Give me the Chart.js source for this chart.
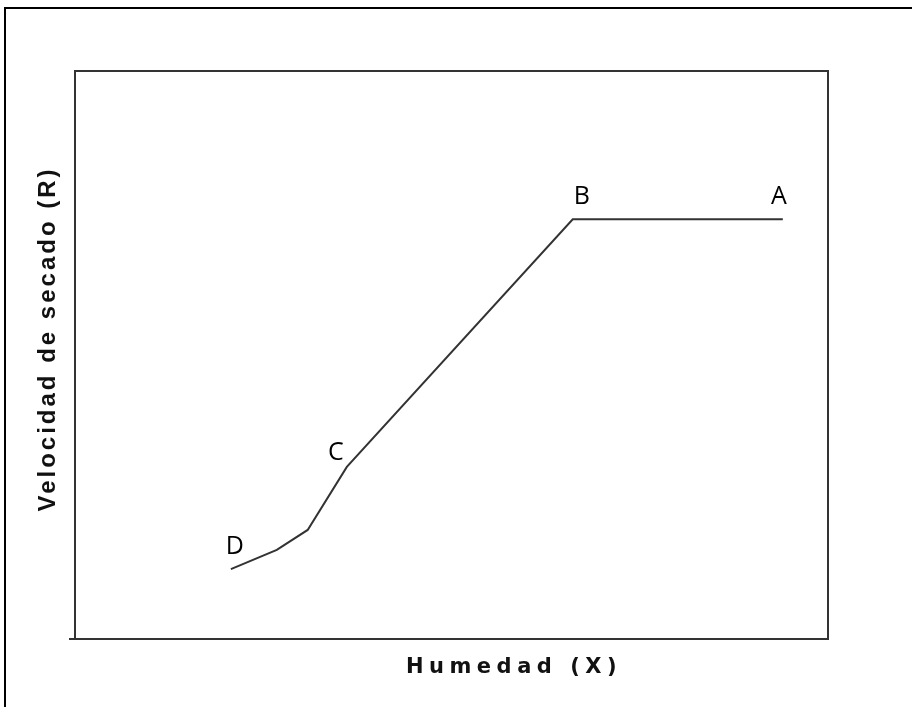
<!DOCTYPE html>
<html>
<head>
<meta charset="utf-8">
<script src="https://cdn.jsdelivr.net/npm/chart.js@4.4.0/dist/chart.umd.min.js"></script>
<style>
    html, body { margin: 0; padding: 0; background: #fff; overflow: hidden; }
    #frame {
        position: absolute; left: 4px; top: 7px;
        width: 1000px; height: 800px;
        border: 2px solid #000;
    }
    #wrap { position: absolute; left: 0; top: 0; width: 912px; height: 707px; }
</style>
</head>
<body>
<div id="frame"></div>
<div id="wrap"><canvas id="chart" width="912" height="707"></canvas></div>
<script>
// Curve of drying rate vs moisture (arbitrary 0-100 units)
const humedad = [20.7, 26.8, 30.9, 36.1, 66.1, 94.0];
const velocidad = [12.3, 15.7, 19.2, 30.3, 73.9, 73.9];
const puntos = ['D', '', '', 'C', 'B', 'A'];

const xTitle = 'Humedad (X)';
const yTitle = 'Velocidad de secado (R)';

// label offsets from each point, in pixels
const labelOffsets = {
    D: [4, -22],
    C: [-11, -14],
    B: [9, -22],
    A: [-4, -22]
};

const boxPlugin = {
    id: 'boxPlugin',
    afterDraw(chart) {
        const ctx = chart.ctx;
        const a = chart.chartArea;
        ctx.save();
        ctx.strokeStyle = '#333';
        ctx.lineWidth = 2;
        ctx.beginPath();
        ctx.moveTo(a.left - 6, a.bottom);
        ctx.lineTo(a.right, a.bottom);
        ctx.lineTo(a.right, a.top);
        ctx.lineTo(a.left, a.top);
        ctx.lineTo(a.left, a.bottom);
        ctx.stroke();

        // axis titles
        ctx.fillStyle = '#111';
        ctx.textAlign = 'center';
        ctx.textBaseline = 'middle';
        ctx.font = 'bold 21px "DejaVu Sans", Verdana, sans-serif';
        ctx.letterSpacing = '5.5px';
        ctx.fillText(xTitle, a.left + 439, a.bottom + 29);

        ctx.font = 'bold 24px "Liberation Sans", Arial, sans-serif';
        ctx.letterSpacing = '3px';
        ctx.translate(a.left - 27, a.top + 268);
        ctx.rotate(-Math.PI / 2);
        ctx.fillText(yTitle, 0, 0);
        ctx.restore();

        // point labels
        const meta = chart.getDatasetMeta(0);
        ctx.save();
        ctx.fillStyle = '#000';
        ctx.textAlign = 'center';
        ctx.textBaseline = 'middle';
        ctx.font = '25px "Open Sans", "DejaVu Sans", sans-serif';
        meta.data.forEach((pt, i) => {
            const txt = puntos[i];
            if (!txt) return;
            const off = labelOffsets[txt];
            ctx.fillText(txt, pt.x + off[0], pt.y + off[1]);
        });
        ctx.restore();
    }
};

new Chart(document.getElementById('chart'), {
    type: 'scatter',
    data: {
        datasets: [{
            data: humedad.map((x, i) => ({ x: x, y: velocidad[i] })),
            showLine: true,
            borderColor: '#333',
            borderWidth: 2,
            pointRadius: 0,
            tension: 0,
            fill: false
        }]
    },
    options: {
        responsive: false,
        animation: false,
        events: [],
        layout: { padding: { left: 75, top: 71, right: 84, bottom: 68 } },
        plugins: { legend: { display: false }, tooltip: { enabled: false } },
        scales: {
            x: { type: 'linear', min: 0, max: 100, display: false },
            y: { type: 'linear', min: 0, max: 100, display: false }
        }
    },
    plugins: [boxPlugin]
});
</script>
</body>
</html>
